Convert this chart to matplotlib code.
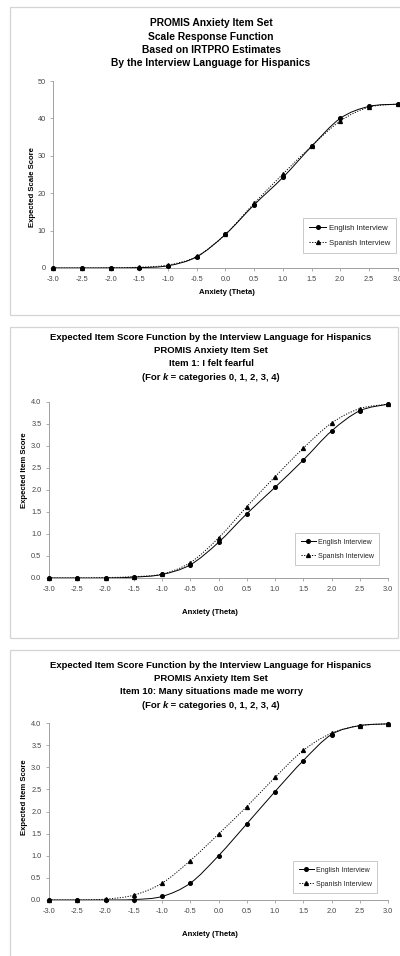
import numpy as np
import matplotlib
matplotlib.use("Agg")
import matplotlib.pyplot as plt
from matplotlib.path import Path
from matplotlib.patches import PathPatch, Rectangle
from matplotlib.lines import Line2D

plt.rcParams['font.family'] = ['Liberation Sans', 'DejaVu Sans']

theta = [-3.0, -2.5, -2.0, -1.5, -1.0, -0.5, 0.0, 0.5, 1.0, 1.5, 2.0, 2.5, 3.0]

# scale response function
scale_eng = [0.0, 0.0, 0.02, 0.1, 0.6, 3.0, 9.0, 16.9, 24.2, 32.5, 40.0, 43.2, 43.8]
scale_spa = [0.0, 0.0, 0.05, 0.2, 0.8, 3.1, 9.0, 17.3, 25.1, 32.6, 39.3, 43.0, 43.8]

# item 1: I felt fearful
item1_eng = [0.0, 0.0, 0.0, 0.02, 0.08, 0.30, 0.81, 1.46, 2.06, 2.68, 3.34, 3.80, 3.95]
item1_spa = [0.0, 0.0, 0.01, 0.03, 0.09, 0.35, 0.91, 1.62, 2.30, 2.95, 3.52, 3.85, 3.95]

# item 10: Many situations made me worry
item10_eng = [0.0, 0.0, 0.0, 0.01, 0.08, 0.38, 1.00, 1.72, 2.45, 3.15, 3.74, 3.94, 3.98]
item10_spa = [0.0, 0.0, 0.02, 0.11, 0.38, 0.89, 1.49, 2.11, 2.77, 3.38, 3.77, 3.94, 3.98]

xticks = [-3.0, -2.5, -2.0, -1.5, -1.0, -0.5, 0.0, 0.5, 1.0, 1.5, 2.0, 2.5, 3.0]
legend_labels = ["English Interview", "Spanish Interview"]

W, H = 400, 956
fig = plt.figure(figsize=(W / 100, H / 100), dpi=100)
renderer = fig.canvas.get_renderer()


def fx(px):
    return px / W


def fy(py):
    return 1 - py / H


def smooth_path(x, y):
    # excel-style smoothed line: bezier segments with catmull-rom handles
    p = np.column_stack([x, y]).astype(float)
    n = len(p)
    verts = [p[0]]
    codes = [Path.MOVETO]
    for i in range(n - 1):
        p0 = p[i - 1] if i > 0 else p[i]
        p1 = p[i]
        p2 = p[i + 1]
        p3 = p[i + 2] if i + 2 < n else p[i + 1]
        c1 = p1 + (p2 - p0) / 6.0
        c2 = p2 - (p3 - p1) / 6.0
        verts += [c1, c2, p2]
        codes += [Path.CURVE4] * 3
    return Path(verts, codes)


def mixed_line(cx, cy, parts, size):
    # one centred title line built from (text, style) pieces
    texts = []
    for s, style in parts:
        t = fig.text(0, fy(cy), s, ha='left', va='center', fontsize=size,
                     fontweight='bold', fontstyle=style)
        texts.append(t)
    widths = [t.get_window_extent(renderer).width for t in texts]
    x = cx - sum(widths) / 2
    for t, w in zip(texts, widths):
        t.set_x(fx(x))
        x += w


gray = '#a0a0a0'
tick_col = '#444444'


def panel(box, ax_px, ylim, yticks, yfmt, eng, spa, titles, title_y, title_size,
          xlabel_pos, ylabel, ylabel_pos, leg_pos, leg_size):
    x0, y0, x1, y1 = box
    fig.patches.append(Rectangle((fx(x0), fy(y1)), fx(x1) - fx(x0), fy(y0) - fy(y1),
                                 transform=fig.transFigure, fill=False,
                                 edgecolor='#d4d4d4', linewidth=0.9))
    l, r, b, t = ax_px
    ax = fig.add_axes([fx(l), fy(b), fx(r) - fx(l), fy(t) - fy(b)])
    ax.set_xlim(-3, 3)
    ax.set_ylim(*ylim)
    ax.patch.set_alpha(0)
    for s in ['top', 'right']:
        ax.spines[s].set_visible(False)
    for s in ['left', 'bottom']:
        ax.spines[s].set_color(gray)
        ax.spines[s].set_linewidth(0.7)
    ax.set_xticks(xticks)
    ax.set_xticklabels(["%.1f" % v for v in xticks])
    ax.set_yticks(yticks)
    ax.set_yticklabels([yfmt % v for v in yticks])
    ax.tick_params(axis='both', colors=gray, labelcolor=tick_col, labelsize=5.3,
                   length=2.5, width=0.6, direction='out', pad=3)

    ax.add_patch(PathPatch(smooth_path(theta, eng), fill=False, edgecolor='black',
                           linewidth=0.7, linestyle='-'))
    ax.add_patch(PathPatch(smooth_path(theta, spa), fill=False, edgecolor='black',
                           linewidth=0.7, linestyle=(0, (1.2, 1.5))))
    ax.plot(theta, eng, linestyle='none', marker='o', markersize=2.6, color='black',
            clip_on=False, zorder=4)
    ax.plot(theta, spa, linestyle='none', marker='^', markersize=2.8, color='black',
            clip_on=False, zorder=4)

    for i, line in enumerate(titles):
        if isinstance(line, list):
            mixed_line(211, title_y[i], line, title_size)
        else:
            fig.text(fx(211), fy(title_y[i]), line, ha='center', va='center',
                     fontsize=title_size, fontweight='bold')
    fig.text(fx(xlabel_pos[0]), fy(xlabel_pos[1]), "Anxiety (Theta)", ha='center',
             va='center', fontsize=5.6, fontweight='bold')
    fig.text(fx(ylabel_pos[0]), fy(ylabel_pos[1]), ylabel, ha='center', va='center',
             rotation=90, fontsize=5.6, fontweight='bold')

    handles = [Line2D([], [], color='black', linewidth=0.7, marker='o', markersize=2.6),
               Line2D([], [], color='black', linewidth=0.7, linestyle=(0, (1.2, 1.5)),
                      marker='^', markersize=2.8)]
    leg = fig.legend(handles, legend_labels, loc='upper left',
                     bbox_to_anchor=(fx(leg_pos[0]), fy(leg_pos[1])),
                     bbox_transform=fig.transFigure, borderaxespad=0, frameon=True,
                     fancybox=False, fontsize=leg_size, handlelength=2.2,
                     handletextpad=0.3, labelspacing=1.0, borderpad=0.8,
                     labelcolor='#222222')
    leg.get_frame().set_edgecolor('#b0b0b0')
    leg.get_frame().set_linewidth(0.6)
    return ax


k_line = [("(For ", 'normal'), ("k", 'italic'), (" = categories 0, 1, 2, 3, 4)", 'normal')]

panel((10, 7, 410, 315), (53.3, 397.6, 268, 81), (0, 50), [0, 10, 20, 30, 40, 50], "%d",
      scale_eng, scale_spa,
      ["PROMIS Anxiety Item Set", "Scale Response Function",
       "Based on IRTPRO Estimates", "By the Interview Language for Hispanics"],
      [23, 36.5, 50, 63.5], 7.4, (227, 292), "Expected Scale Score", (33, 187),
      (303, 218), 5.6)

panel((10, 327, 398, 638), (49, 388, 578, 402), (0, 4), [0, 0.5, 1, 1.5, 2, 2.5, 3, 3.5, 4],
      "%.1f", item1_eng, item1_spa,
      ["Expected Item Score Function by the Interview Language for Hispanics",
       "PROMIS Anxiety Item Set", "Item 1: I felt fearful", k_line],
      [337, 350.5, 364, 378], 6.8, (210, 613), "Expected Item Score", (25, 470),
      (295, 533), 5.0)

panel((10, 650, 410, 970), (49, 388, 900, 723), (0, 4), [0, 0.5, 1, 1.5, 2, 2.5, 3, 3.5, 4],
      "%.1f", item10_eng, item10_spa,
      ["Expected Item Score Function by the Interview Language for Hispanics",
       "PROMIS Anxiety Item Set", "Item 10: Many situations made me worry", k_line],
      [665, 678.5, 692, 706], 6.8, (210, 935), "Expected Item Score", (25, 797),
      (293, 861), 5.0)

fig.savefig("out.png", dpi=100, facecolor='white')
